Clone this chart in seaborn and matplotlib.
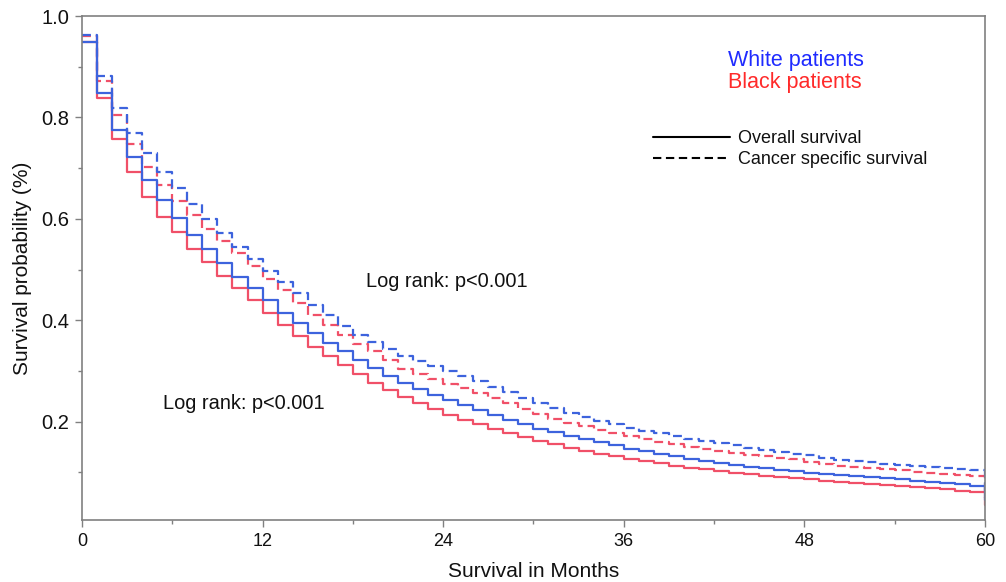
import pandas as pd
import seaborn as sns
import matplotlib.pyplot as plt
from matplotlib.lines import Line2D
from matplotlib.ticker import MultipleLocator

# months 0..59 (step value on [m, m+1)), last point = value at month 60
meses = list(range(0, 61))

os_white = [0.949, 0.849, 0.775, 0.722, 0.676, 0.637, 0.601, 0.568, 0.540, 0.512,
            0.486, 0.463, 0.440, 0.415, 0.394, 0.375, 0.355, 0.339, 0.322, 0.306,
            0.290, 0.276, 0.264, 0.253, 0.243, 0.233, 0.223, 0.213, 0.204, 0.195,
            0.186, 0.179, 0.172, 0.165, 0.159, 0.153, 0.147, 0.142, 0.137, 0.132,
            0.127, 0.123, 0.119, 0.115, 0.111, 0.108, 0.105, 0.102, 0.099, 0.097,
            0.094, 0.092, 0.090, 0.088, 0.086, 0.083, 0.081, 0.079, 0.077, 0.074,
            0.045]

os_black = [0.949, 0.838, 0.758, 0.692, 0.643, 0.603, 0.574, 0.540, 0.514, 0.488,
            0.463, 0.440, 0.414, 0.390, 0.368, 0.347, 0.329, 0.311, 0.293, 0.276,
            0.262, 0.249, 0.236, 0.225, 0.214, 0.204, 0.195, 0.185, 0.177, 0.170,
            0.162, 0.155, 0.149, 0.143, 0.137, 0.132, 0.127, 0.123, 0.118, 0.113,
            0.109, 0.106, 0.103, 0.099, 0.096, 0.093, 0.091, 0.088, 0.086, 0.083,
            0.081, 0.079, 0.077, 0.075, 0.073, 0.071, 0.069, 0.067, 0.064, 0.061,
            0.036]

css_white = [0.963, 0.882, 0.819, 0.770, 0.729, 0.693, 0.660, 0.630, 0.599, 0.573,
             0.545, 0.521, 0.497, 0.476, 0.454, 0.431, 0.411, 0.389, 0.371, 0.358,
             0.344, 0.330, 0.319, 0.309, 0.300, 0.290, 0.280, 0.269, 0.259, 0.246,
             0.236, 0.226, 0.217, 0.209, 0.202, 0.195, 0.188, 0.182, 0.177, 0.171,
             0.166, 0.161, 0.157, 0.153, 0.149, 0.145, 0.141, 0.137, 0.134, 0.128,
             0.125, 0.122, 0.120, 0.117, 0.115, 0.113, 0.111, 0.109, 0.106, 0.104,
             0.060]

css_black = [0.960, 0.872, 0.804, 0.747, 0.703, 0.666, 0.636, 0.607, 0.580, 0.556,
             0.532, 0.506, 0.482, 0.459, 0.434, 0.411, 0.391, 0.371, 0.354, 0.339,
             0.321, 0.304, 0.294, 0.284, 0.275, 0.266, 0.256, 0.246, 0.236, 0.225,
             0.215, 0.206, 0.198, 0.191, 0.184, 0.178, 0.172, 0.166, 0.160, 0.155,
             0.150, 0.146, 0.142, 0.138, 0.135, 0.132, 0.129, 0.126, 0.121, 0.116,
             0.113, 0.111, 0.108, 0.106, 0.104, 0.101, 0.099, 0.097, 0.095, 0.092,
             0.050]

x_ticks = [0, 12, 24, 36, 48, 60]
y_ticks = [0.2, 0.4, 0.6, 0.8, 1.0]

series = {
    ('White', 'Overall'): os_white,
    ('Black', 'Overall'): os_black,
    ('White', 'Cancer'): css_white,
    ('Black', 'Cancer'): css_black,
}
partes = []
for (raca, desfecho), vals in series.items():
    partes.append(pd.DataFrame({'Mes': meses, 'Sobrevida': vals,
                                'Raca': raca, 'Desfecho': desfecho}))
df = pd.concat(partes, ignore_index=True)

sns.set_theme(style="white")
plt.rcParams['font.family'] = ['Liberation Sans', 'DejaVu Sans']
plt.rcParams['text.color'] = '#111111'
plt.rcParams['axes.labelcolor'] = '#111111'
plt.rcParams['xtick.labelcolor'] = '#111111'
plt.rcParams['ytick.labelcolor'] = '#111111'

fig = plt.figure(figsize=(10.06, 5.82), dpi=100)
ax = fig.add_axes([0.0815, 0.1065, 0.8975, 0.866])

cor_azul = '#3d63dd'
cor_verm = '#f05068'

sns.lineplot(data=df, x='Mes', y='Sobrevida', hue='Raca', style='Desfecho',
             palette={'White': cor_azul, 'Black': cor_verm},
             dashes={'Overall': '', 'Cancer': (4, 2.2)},
             hue_order=['Black', 'White'],
             drawstyle='steps-post', linewidth=1.6, legend=False, ax=ax)

ax.set_xlim(0, 60)
ax.set_ylim(0.006, 1.0)
ax.set_xticks(x_ticks)
ax.set_yticks(y_ticks)
ax.set_yticklabels([f'{v:.1f}' for v in y_ticks])
ax.xaxis.set_minor_locator(MultipleLocator(6))
ax.yaxis.set_minor_locator(MultipleLocator(0.1))
ax.tick_params(which='major', direction='out', length=5, width=1, color='#808080',
               left=True, bottom=True, pad=4)
ax.tick_params(axis='x', which='major', labelsize=13)
ax.tick_params(axis='y', which='major', labelsize=14.5)
ax.tick_params(which='minor', direction='out', length=3, width=1, color='#808080',
               left=True, bottom=True)
for s in ax.spines.values():
    s.set_color('#808080')
    s.set_linewidth(1.2)

ax.set_xlabel('Survival in Months', fontsize=15, labelpad=9)
ax.set_ylabel('Survival probability (%)', fontsize=15, labelpad=7)

ax.text(18.9, 0.476, 'Log rank: p<0.001', fontsize=14.4, va='center', ha='left')
ax.text(5.4, 0.235, 'Log rank: p<0.001', fontsize=14.4, va='center', ha='left')
ax.text(42.9, 0.913, 'White patients', fontsize=15.5, color='#1f2bff', va='center')
ax.text(42.9, 0.868, 'Black patients', fontsize=15.5, color='#ff2a2a', va='center')

handles = [Line2D([], [], color='black', lw=1.5, ls='-'),
           Line2D([], [], color='black', lw=1.5, ls=(0, (4, 2.2)))]
ax.legend(handles, ['Overall survival', 'Cancer specific survival'],
          loc='upper left', bbox_to_anchor=(0.632, 0.774), frameon=False,
          fontsize=13, handlelength=4.3, handletextpad=0.45, labelspacing=0.25,
          borderpad=0, borderaxespad=0)

plt.savefig('out.png', dpi=100)
